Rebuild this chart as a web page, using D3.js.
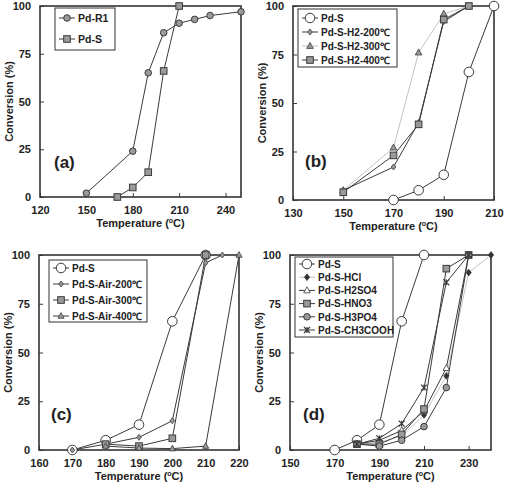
<html>
<head>
<meta charset="utf-8">
<script src="https://d3js.org/d3.v7.min.js"></script>
<style>
  body { margin: 0; background: #fff; }
  svg text { font-family: "Liberation Sans", Arial, sans-serif; font-weight: bold; fill: #222; }
</style>
</head>
<body>
<svg id="chart" width="505" height="482"></svg>
<script>
// ---- panel (a)
const tempR1 = [150, 180, 190, 200, 210, 220, 230, 250];
const convR1 = [2, 24, 65, 86, 91, 93, 95, 97];
const tempS = [170, 180, 190, 200, 210];
const convS = [0, 5, 13, 66, 100];

// ---- panel (b)
const tempH2_200 = [150, 170, 180, 190, 200];
const convH2_200 = [5, 17, 40, 92, 100];
const tempH2_300 = [150, 170, 180, 190, 200];
const convH2_300 = [5, 27, 76, 96, 100];
const tempH2_400 = [150, 170, 180, 190, 200];
const convH2_400 = [4, 23, 39, 93, 100];

// ---- panel (c)
const tempAir200 = [170, 180, 190, 200, 210, 215];
const convAir200 = [0, 3, 6.5, 15, 96, 100];
const tempAir300 = [180, 190, 200, 210];
const convAir300 = [3, 2, 6, 100];
const tempAir400 = [180, 190, 200, 210, 220];
const convAir400 = [2, 1, 0.7, 2, 100];

// ---- panel (d)
const tempHCl = [180, 190, 200, 210, 220, 230, 240];
const convHCl = [3, 4, 7, 18, 38, 91, 100];
const tempH2SO4 = [180, 190, 200, 210, 220, 230];
const convH2SO4 = [3, 5, 10, 20, 42, 100];
const tempHNO3 = [180, 190, 200, 210, 220, 230];
const convHNO3 = [3, 3, 8, 21, 93, 100];
const tempH3PO4 = [180, 190, 200, 210, 220, 230];
const convH3PO4 = [3, 2, 5, 12, 32, 100];
const tempCH3COOH = [180, 190, 200, 210, 220, 230];
const convCH3COOH = [3, 6, 13.5, 32, 86, 100];

const yTicks = [0, 25, 50, 75, 100];

const dark = "#3a3a3a", grey = "#9a9a9a", pale = "#c4c4c4";

function zip(xs, ys) { return xs.map((x, i) => [x, ys[i]]); }

const panels = [
  { tag: "(a)", left: 40, top: 6, w: 201, h: 191, xDom: [120, 250], xTicks: [120, 150, 180, 210, 240],
    tagPos: [54, 168], legend: { x: 55, y: 8, w: 60, h: 42, y0: 18, dy: 21, fs: 10.5 },
    series: [
      { name: "Pd-R1", pts: zip(tempR1, convR1), mark: "circle", r: 3.3, fill: grey, line: dark },
      { name: "Pd-S", pts: zip(tempS, convS), mark: "square", r: 3.3, fill: grey, line: dark }
    ] },
  { tag: "(b)", left: 293, top: 6, w: 201, h: 194, xDom: [130, 210], xTicks: [130, 150, 170, 190, 210],
    tagPos: [305, 167], legend: { x: 298, y: 9, w: 99, h: 58, y0: 18, dy: 14, fs: 10 },
    series: [
      { name: "Pd-S", pts: zip(tempS, convS), mark: "circle", r: 4.8, fill: "#fff", line: dark },
      { name: "Pd-S-H2-200\u2103", pts: zip(tempH2_200, convH2_200), mark: "diamond", r: 2.3, fill: grey, line: dark },
      { name: "Pd-S-H2-300\u2103", pts: zip(tempH2_300, convH2_300), mark: "triangle", r: 3, fill: grey, line: pale },
      { name: "Pd-S-H2-400\u2103", pts: zip(tempH2_400, convH2_400), mark: "square", r: 3.3, fill: grey, line: dark }
    ] },
  { tag: "(c)", left: 39, top: 255, w: 200, h: 195, xDom: [160, 220], xTicks: [160, 170, 180, 190, 200, 210, 220],
    tagPos: [51, 420], legend: { x: 49, y: 260, w: 98, h: 62, y0: 268, dy: 16, fs: 10 },
    series: [
      { name: "Pd-S", pts: zip(tempS, convS), mark: "circle", r: 4.8, fill: "#fff", line: dark },
      { name: "Pd-S-Air-200\u2103", pts: zip(tempAir200, convAir200), mark: "diamond", r: 2.3, fill: grey, line: dark },
      { name: "Pd-S-Air-300\u2103", pts: zip(tempAir300, convAir300), mark: "square", r: 3.3, fill: grey, line: dark },
      { name: "Pd-S-Air-400\u2103", pts: zip(tempAir400, convAir400), mark: "triangle", r: 2.8, fill: grey, line: dark }
    ] },
  { tag: "(d)", left: 290, top: 255, w: 201, h: 195, xDom: [150, 240], xTicks: [150, 170, 190, 210, 230],
    tagPos: [303, 420], legend: { x: 295, y: 257, w: 98, h: 80, y0: 264, dy: 13.2, fs: 10 },
    series: [
      { name: "Pd-S", pts: zip(tempS, convS), mark: "circle", r: 4.8, fill: "#fff", line: dark },
      { name: "Pd-S-HCl", pts: zip(tempHCl, convHCl), mark: "diamond", r: 2.6, fill: "#333", line: pale },
      { name: "Pd-S-H2SO4", pts: zip(tempH2SO4, convH2SO4), mark: "triangle", r: 3, fill: "#fff", line: dark },
      { name: "Pd-S-HNO3", pts: zip(tempHNO3, convHNO3), mark: "square", r: 3.3, fill: grey, line: dark },
      { name: "Pd-S-H3PO4", pts: zip(tempH3PO4, convH3PO4), mark: "circle", r: 3.3, fill: grey, line: dark },
      { name: "Pd-S-CH3COOH", pts: zip(tempCH3COOH, convCH3COOH), mark: "star", r: 3, fill: dark, line: dark }
    ] }
];

const svg = d3.select("#chart");

function drawMark(sel, s, x, y) {
  const r = s.r;
  if (s.mark === "circle") {
    sel.append("circle").attr("cx", x).attr("cy", y).attr("r", r)
      .attr("fill", s.fill).attr("stroke", dark).attr("stroke-width", 1);
  } else if (s.mark === "square") {
    sel.append("rect").attr("x", x - r).attr("y", y - r).attr("width", 2 * r).attr("height", 2 * r)
      .attr("fill", s.fill).attr("stroke", dark).attr("stroke-width", 1);
  } else if (s.mark === "diamond") {
    sel.append("path").attr("d", `M${x},${y - r * 1.3}L${x + r},${y}L${x},${y + r * 1.3}L${x - r},${y}Z`)
      .attr("fill", s.fill).attr("stroke", dark).attr("stroke-width", 0.8);
  } else if (s.mark === "triangle") {
    sel.append("path").attr("d", `M${x},${y - r * 1.2}L${x + r * 1.1},${y + r * 0.8}L${x - r * 1.1},${y + r * 0.8}Z`)
      .attr("fill", s.fill).attr("stroke", dark).attr("stroke-width", 0.8);
  } else if (s.mark === "star") {
    sel.append("path").attr("d", `M${x - r},${y - r}L${x + r},${y + r}M${x - r},${y + r}L${x + r},${y - r}M${x},${y - r}L${x},${y + r}`)
      .attr("stroke", dark).attr("stroke-width", 1.2);
  }
}

panels.forEach(p => {
  const x = d3.scaleLinear().domain(p.xDom).range([p.left, p.left + p.w]);
  const y = d3.scaleLinear().domain([0, 100]).range([p.top + p.h, p.top]);
  const g = svg.append("g");

  // axes with inward ticks
  const xAxis = g.append("g").attr("transform", `translate(0,${p.top + p.h})`)
    .call(d3.axisBottom(x).tickValues(p.xTicks).tickSizeInner(-4).tickSizeOuter(0).tickPadding(9));
  const yAxis = g.append("g").attr("transform", `translate(${p.left},0)`)
    .call(d3.axisLeft(y).tickValues(yTicks).tickSizeInner(-4).tickSizeOuter(0).tickPadding(9));
  [xAxis, yAxis].forEach(a => {
    a.select(".domain").remove();
    a.selectAll(".tick line").attr("stroke", dark);
    a.selectAll(".tick text").style("font-size", "11px").attr("fill", "#222");
  });

  // frame
  g.append("rect").attr("x", p.left).attr("y", p.top).attr("width", p.w).attr("height", p.h)
    .attr("fill", "none").attr("stroke", "#333").attr("stroke-width", 1.6);

  // axis titles
  const xt = g.append("text").attr("x", p.left + p.w / 2).attr("y", p.top + p.h + 29.5)
    .attr("text-anchor", "middle").style("font-size", "11px").text("Temperature (");
  xt.append("tspan").attr("dy", -4).style("font-size", "7px").text("o");
  xt.append("tspan").attr("dy", 4).text("C)");
  g.append("text").attr("transform", `translate(${p.left - 27},${p.top + p.h / 2}) rotate(-90)`)
    .attr("text-anchor", "middle").style("font-size", "11px").text("Conversion (%)");

  // series
  const line = d3.line().x(d => x(d[0])).y(d => y(d[1]));
  p.series.forEach(s => {
    g.append("path").datum(s.pts).attr("d", line).attr("fill", "none")
      .attr("stroke", s.line).attr("stroke-width", 1);
  });
  p.series.forEach(s => {
    const mg = g.append("g");
    s.pts.forEach(d => drawMark(mg, s, x(d[0]), y(d[1])));
  });

  // panel tag
  g.append("text").attr("x", p.tagPos[0]).attr("y", p.tagPos[1]).style("font-size", "17px").text(p.tag);

  // legend
  const L = p.legend;
  g.append("rect").attr("x", L.x).attr("y", L.y).attr("width", L.w).attr("height", L.h)
    .attr("fill", "#fff").attr("stroke", "#333").attr("stroke-width", 1);
  p.series.forEach((s, i) => {
    const ly = L.y0 + i * L.dy;
    const lg = g.append("g");
    lg.append("line").attr("x1", L.x + 4).attr("x2", L.x + 20).attr("y1", ly).attr("y2", ly)
      .attr("stroke", s.line).attr("stroke-width", 1);
    drawMark(lg, s, L.x + 12, ly);
    lg.append("text").attr("x", L.x + 23).attr("y", ly + 3.8).style("font-size", L.fs + "px").text(s.name);
  });
});
</script>
</body>
</html>
